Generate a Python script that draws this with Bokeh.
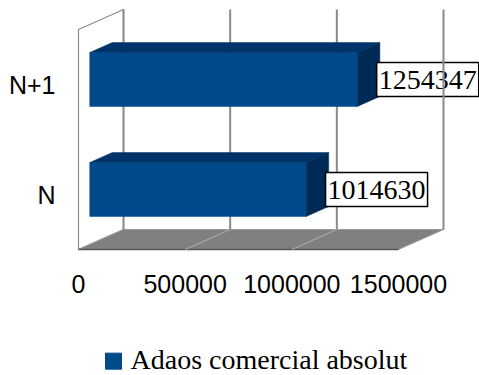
from bokeh.plotting import figure
from bokeh.models import Range1d, ColumnDataSource
from bokeh.core.properties import value
from bokeh.embed import file_html
from bokeh.resources import INLINE

# ---- data ----
categories = ["N", "N+1"]
values = [1014630, 1254347]
value_labels = ["1014630", "1254347"]
x_ticks = [0, 500000, 1000000, 1500000]
x_tick_labels = ["0", "500000", "1000000", "1500000"]
series_name = "Adaos comercial absolut"

# ---- 3D projection helpers (depth d in 0..1) ----
DX = 210938.0          # depth shift along value axis (value units)
DY = 0.1818            # depth shift along category axis (category units)
FLOOR, TOP = -0.5, 1.5
HALF = 0.245
D_FRONT, D_BACK = 0.25, 0.75
VMAX = x_ticks[-1]
BAR_COLOR = "#004A8C"

def X(v, d):
    return v + d * DX

def Y(i, d):
    return i + d * DY

idx = list(range(len(categories)))

p = figure(width=479, height=375, output_backend="svg", toolbar_location=None,
           x_range=Range1d(-365625, 1879688), y_range=Range1d(-1.64545, 1.763636),
           min_border=0, x_axis_location=None, y_axis_location=None)
p.xgrid.visible = False
p.ygrid.visible = False
p.outline_line_color = None
p.background_fill_color = "white"

# left wall
p.patch([X(0, 0), X(0, 0), X(0, 1), X(0, 1)],
        [Y(FLOOR, 0), Y(TOP, 0), Y(TOP, 1), Y(FLOOR, 1)],
        fill_color="white", line_color="#8a8a8a", line_width=1.2)

# floor
p.patch([X(0, 0), X(VMAX, 0), X(VMAX, 1), X(0, 1)],
        [Y(FLOOR, 0), Y(FLOOR, 0), Y(FLOOR, 1), Y(FLOOR, 1)],
        fill_color="#808080", line_color="#9a9a9a", line_width=1)
p.segment(x0=[X(0, 0)], y0=[Y(FLOOR, 0)], x1=[X(VMAX, 0)], y1=[Y(FLOOR, 0)],
          line_color="#555555", line_width=1.5)
inner = x_ticks[1:-1]
p.segment(x0=[X(t, 0) for t in inner], y0=[Y(FLOOR, 0)] * len(inner),
          x1=[X(t, 1) for t in inner], y1=[Y(FLOOR, 1)] * len(inner),
          line_color="#a8a8a8", line_width=1.2)

# back wall gridlines (all but the last)
gl = x_ticks[:-1]
p.segment(x0=[X(t, 1) for t in gl], y0=[Y(FLOOR, 1)] * len(gl),
          x1=[X(t, 1) for t in gl], y1=[Y(TOP, 1)] * len(gl),
          line_color="#8a8a8a", line_width=2)

# bars
front = ColumnDataSource(dict(
    left=[X(0, D_FRONT)] * len(idx),
    right=[X(v, D_FRONT) for v in values],
    bottom=[Y(i - HALF, D_FRONT) for i in idx],
    top=[Y(i + HALF, D_FRONT) for i in idx],
))
p.quad(left="left", right="right", bottom="bottom", top="top", source=front,
       fill_color=BAR_COLOR, line_color=BAR_COLOR, line_width=0.5)

top_xs = [[X(0, D_FRONT), X(v, D_FRONT), X(v, D_BACK), X(0, D_BACK)] for v in values]
top_ys = [[Y(i + HALF, D_FRONT), Y(i + HALF, D_FRONT), Y(i + HALF, D_BACK), Y(i + HALF, D_BACK)] for i in idx]
p.patches(top_xs, top_ys, fill_color="#003468", line_color="#003468", line_width=0.5)

side_xs = [[X(v, D_FRONT), X(v, D_FRONT), X(v, D_BACK), X(v, D_BACK)] for v in values]
side_ys = [[Y(i - HALF, D_FRONT), Y(i + HALF, D_FRONT), Y(i + HALF, D_BACK), Y(i - HALF, D_BACK)] for i in idx]
p.patches(side_xs, side_ys, fill_color="#002A56", line_color="#002A56", line_width=0.5)

# data labels
lab = ColumnDataSource(dict(
    x=[X(v, 0.68) for v in values],
    y=[Y(i, D_FRONT) for i in idx],
    t=value_labels,
))
p.text(x="x", y="y", text="t", source=lab, text_font=value("Liberation Serif"),
       text_font_size="28px", text_align="left", text_baseline="middle",
       text_color="black",
       background_fill_color="white", border_line_color="black",
       border_line_width=1.5, padding=dict(x=2, y=8))

# right edge of back wall (drawn over labels)
last = x_ticks[-1:]
p.segment(x0=[X(t, 1) for t in last], y0=[Y(FLOOR, 1)] * len(last),
          x1=[X(t, 1) for t in last], y1=[Y(TOP, 1)] * len(last),
          line_color="#8a8a8a", line_width=2)

# value axis labels
p.text(x=x_ticks, y=[FLOOR - 0.31] * len(x_ticks), text=x_tick_labels,
       text_font=value("Liberation Sans"), text_font_size="25px", text_align="center",
       text_baseline="middle", text_color="black")

# category labels
p.text(x=[0] * len(idx), y=idx, text=categories, x_offset=-23,
       text_font=value("Liberation Sans"), text_font_size="25px", text_align="right",
       text_baseline="middle", text_color="black")

# legend (square key + serif label) below the chart
LEG_X, LEG_Y, LEG_TEXT_Y = 164063, FLOOR - 1.015, FLOOR - 1.0
p.scatter(x=[LEG_X], y=[LEG_Y], marker="square", size=16,
          fill_color=BAR_COLOR, line_color=BAR_COLOR)
p.text(x=[LEG_X], y=[LEG_TEXT_Y], text=[series_name], x_offset=17,
       text_font=value("Liberation Serif"), text_font_size="28px",
       text_align="left", text_baseline="middle", text_color="black")

open("out.html", "w").write(file_html(p, INLINE))
